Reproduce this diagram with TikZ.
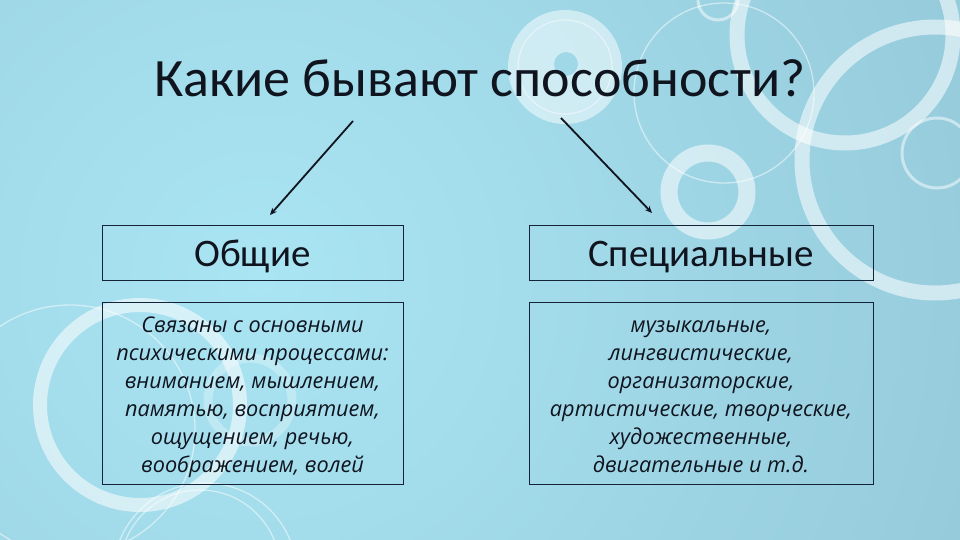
\documentclass[tikz,border=0pt]{standalone}
\usepackage{fontspec}
\setmainfont{Carlito}
\newfontfamily\bodyfont{Open Sans}
\usetikzlibrary{arrows.meta}
\definecolor{bgout}{RGB}{143,194,211}
\definecolor{bgin}{RGB}{170,229,243}
\definecolor{ink}{RGB}{15,20,30}
\definecolor{frame}{RGB}{20,35,55}
\tikzset{
  ring/.style={draw=white, draw opacity=0.55},
  thinring/.style={draw=white, draw opacity=0.5, line width=1.3pt},
  boxframe/.style={draw=frame, line width=1pt, inner sep=0pt},
  headtext/.style={anchor=base, text=ink, font=\fontsize{39}{42}\selectfont},
  bodytext/.style={align=center, inner sep=0pt, text=ink,
    font=\bodyfont\itshape\fontsize{21.7}{28}\selectfont},
  arr/.style={draw=ink, line width=1.8pt, -{Stealth[length=7pt,width=6pt]}}
}
\begin{document}
\begin{tikzpicture}[x=1pt,y=-1pt]
\useasboundingbox (0,0) rectangle (960,540);
% background
\fill[bgout] (0,0) rectangle (960,540);
\begin{scope}
\clip (0,0) rectangle (960,540);
\shade[inner color=bgin, outer color=bgout] (260,280) circle[radius=1000];
% decorative circles, top middle
\fill[white, fill opacity=0.5, even odd rule] (565,67) circle[radius=57] (566,64) circle[radius=12];
\draw[white, opacity=0.45, line width=1.2pt] (565,67) circle[radius=47];
% top right
\draw[ring, line width=15pt] (845,35) circle[radius=108];
\draw[ring, line width=15pt] (935,160) circle[radius=133];
\draw[ring, line width=17pt] (708,192) circle[radius=39];
\draw[thinring] (724,93) circle[radius=90];
\draw[thinring, line width=3pt] (937,153) circle[radius=35];
\draw[thinring, line width=3pt] (718,0) circle[radius=20];
% left
\draw[ring, line width=14pt] (140,405) circle[radius=100];
\draw[thinring] (70,430) circle[radius=125];
\draw[white, opacity=0.28, line width=9pt] (250,400) circle[radius=42];
\draw[thinring] (200,570) circle[radius=80];
\draw[thinring] (205,575) circle[radius=92];
\end{scope}
% title
\node[anchor=base, text=ink, font=\fontsize{54}{60}\selectfont] (title) at (480,97) {Какие бывают способности?};
% boxes
\node[boxframe, minimum width=301pt, minimum height=55pt] (hl) at (252.5,252.5) {};
\node[boxframe, minimum width=344pt, minimum height=55pt] (hr) at (701,252.5) {};
\node[boxframe, minimum width=301pt, minimum height=182pt] (bl) at (252.5,393) {};
\node[boxframe, minimum width=344pt, minimum height=182pt] (br) at (701,393) {};
% texts
\node[headtext] (hlt) at ([yshift=-14pt]hl.center) {Общие};
\node[headtext] (hrt) at ([yshift=-14pt]hr.center) {Специальные};
\node[bodytext] (blt) at ([yshift=-4pt]bl.center) {Связаны с основными\\психическими процессами:\\вниманием, мышлением,\\памятью, восприятием,\\ощущением, речью,\\воображением, волей};
\node[bodytext] (brt) at ([yshift=-4pt]br.center) {музыкальные,\\лингвистические,\\организаторские,\\артистические, творческие,\\художественные,\\двигательные и т.д.};
% arrows
\coordinate (ls) at (353,121);
\coordinate (le) at (270,215);
\coordinate (rs) at (561,118);
\coordinate (re) at (652,213);
\draw[arr] (ls) -- (le);
\draw[arr] (rs) -- (re);
\end{tikzpicture}
\end{document}
